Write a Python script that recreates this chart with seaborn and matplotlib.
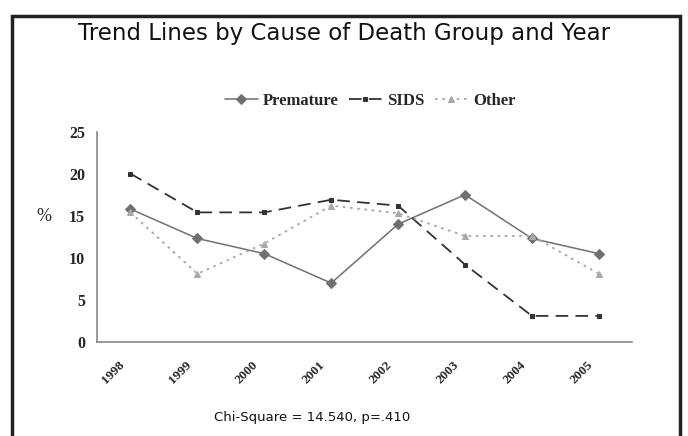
import matplotlib
matplotlib.use('Agg')
import matplotlib.pyplot as plt
import matplotlib.transforms as mtransforms
import seaborn as sns
import pandas as pd
import numpy as np
from matplotlib.patches import Rectangle

years = ['1998', '1999', '2000', '2001', '2002', '2003', '2004', '2005']
premature = [15.8, 12.3, 10.5, 7.0, 14.0, 17.5, 12.3, 10.5]
sids = [20.0, 15.4, 15.4, 16.9, 16.2, 9.2, 3.1, 3.1]
other = [15.4, 8.1, 11.7, 16.2, 15.3, 12.6, 12.6, 8.1]

sns.set_style('white')
plt.rcParams['font.family'] = ['DejaVu Sans']

fig = plt.figure(figsize=(6.88, 4.36), dpi=100)
ax = fig.add_axes([0.141, 0.2156, 0.778, 0.4826])

pos = np.arange(len(years))
sns.lineplot(x=pos, y=premature, ax=ax, color='#707070', lw=1.1, marker='D',
             markersize=5.5, markeredgecolor='#707070', label='Premature')
sns.lineplot(x=pos, y=sids, ax=ax, color='#333333', lw=1.3, marker='s',
             markersize=3.5, markeredgecolor='#333333', dashes=(7, 4), label='SIDS')
sns.lineplot(x=pos, y=other, ax=ax, color='#a8a8a8', lw=1.3, marker='^',
             markersize=4.5, markeredgecolor='#a8a8a8', dashes=(1.5, 2.5), label='Other')

ax.set_xlim(-0.5, len(years) - 0.5)
ax.set_ylim(0, 25)
ax.set_yticks([0, 5, 10, 15, 20, 25])
ax.set_xticks(pos)
ax.set_xticks(np.arange(-0.5, len(years)), minor=True)
ax.tick_params(axis='x', which='major', length=0, pad=12)
ax.tick_params(axis='x', which='minor', length=5, color='#888888', width=1)
ax.tick_params(axis='y', length=5, color='#888888', width=1, pad=3.5)
ax.set_xticklabels(years, rotation=45, ha='right', va='top', rotation_mode='anchor',
                   family='Liberation Serif', fontweight='bold', fontsize=9.5)
# shift the rotated year labels a bit left (after tick_params, which resets them)
shift = mtransforms.ScaledTranslation(-12 / 100, 0, fig.dpi_scale_trans)
for lab in ax.xaxis.get_majorticklabels():
    lab.set_transform(lab.get_transform() + shift)
for lab in ax.get_yticklabels():
    lab.set_family('Liberation Serif')
    lab.set_fontweight('bold')
    lab.set_fontsize(11.5)
for s in ['top', 'right']:
    ax.spines[s].set_visible(False)
for s in ['left', 'bottom']:
    ax.spines[s].set_color('#888888')
    ax.spines[s].set_linewidth(1.2)

ax.set_ylabel('%', family='Liberation Serif', fontsize=13, rotation=0)
ax.yaxis.set_label_coords(-0.099, 0.556)

handles, labels = ax.get_legend_handles_labels()
ax.legend(handles, labels, ncol=3, loc='center', bbox_to_anchor=(0.51, 1.145),
          frameon=False, handlelength=2.0, handletextpad=0.3, columnspacing=0.6,
          prop={'family': 'Liberation Serif', 'weight': 'bold', 'size': 12})

fig.text(0.5, 0.924, 'Trend Lines by Cause of Death Group and Year',
         ha='center', va='center', fontsize=16.5, color='#111111')
fig.text(0.454, 0.043, 'Chi-Square = 14.540, p=.410',
         ha='center', va='center', fontsize=9.5, color='#111111')

fig.patches.append(Rectangle((0.017, -0.1), 0.972, 1.063, transform=fig.transFigure,
                             fill=False, edgecolor='#222222', linewidth=2.5))

fig.savefig('out.png', dpi=100)
